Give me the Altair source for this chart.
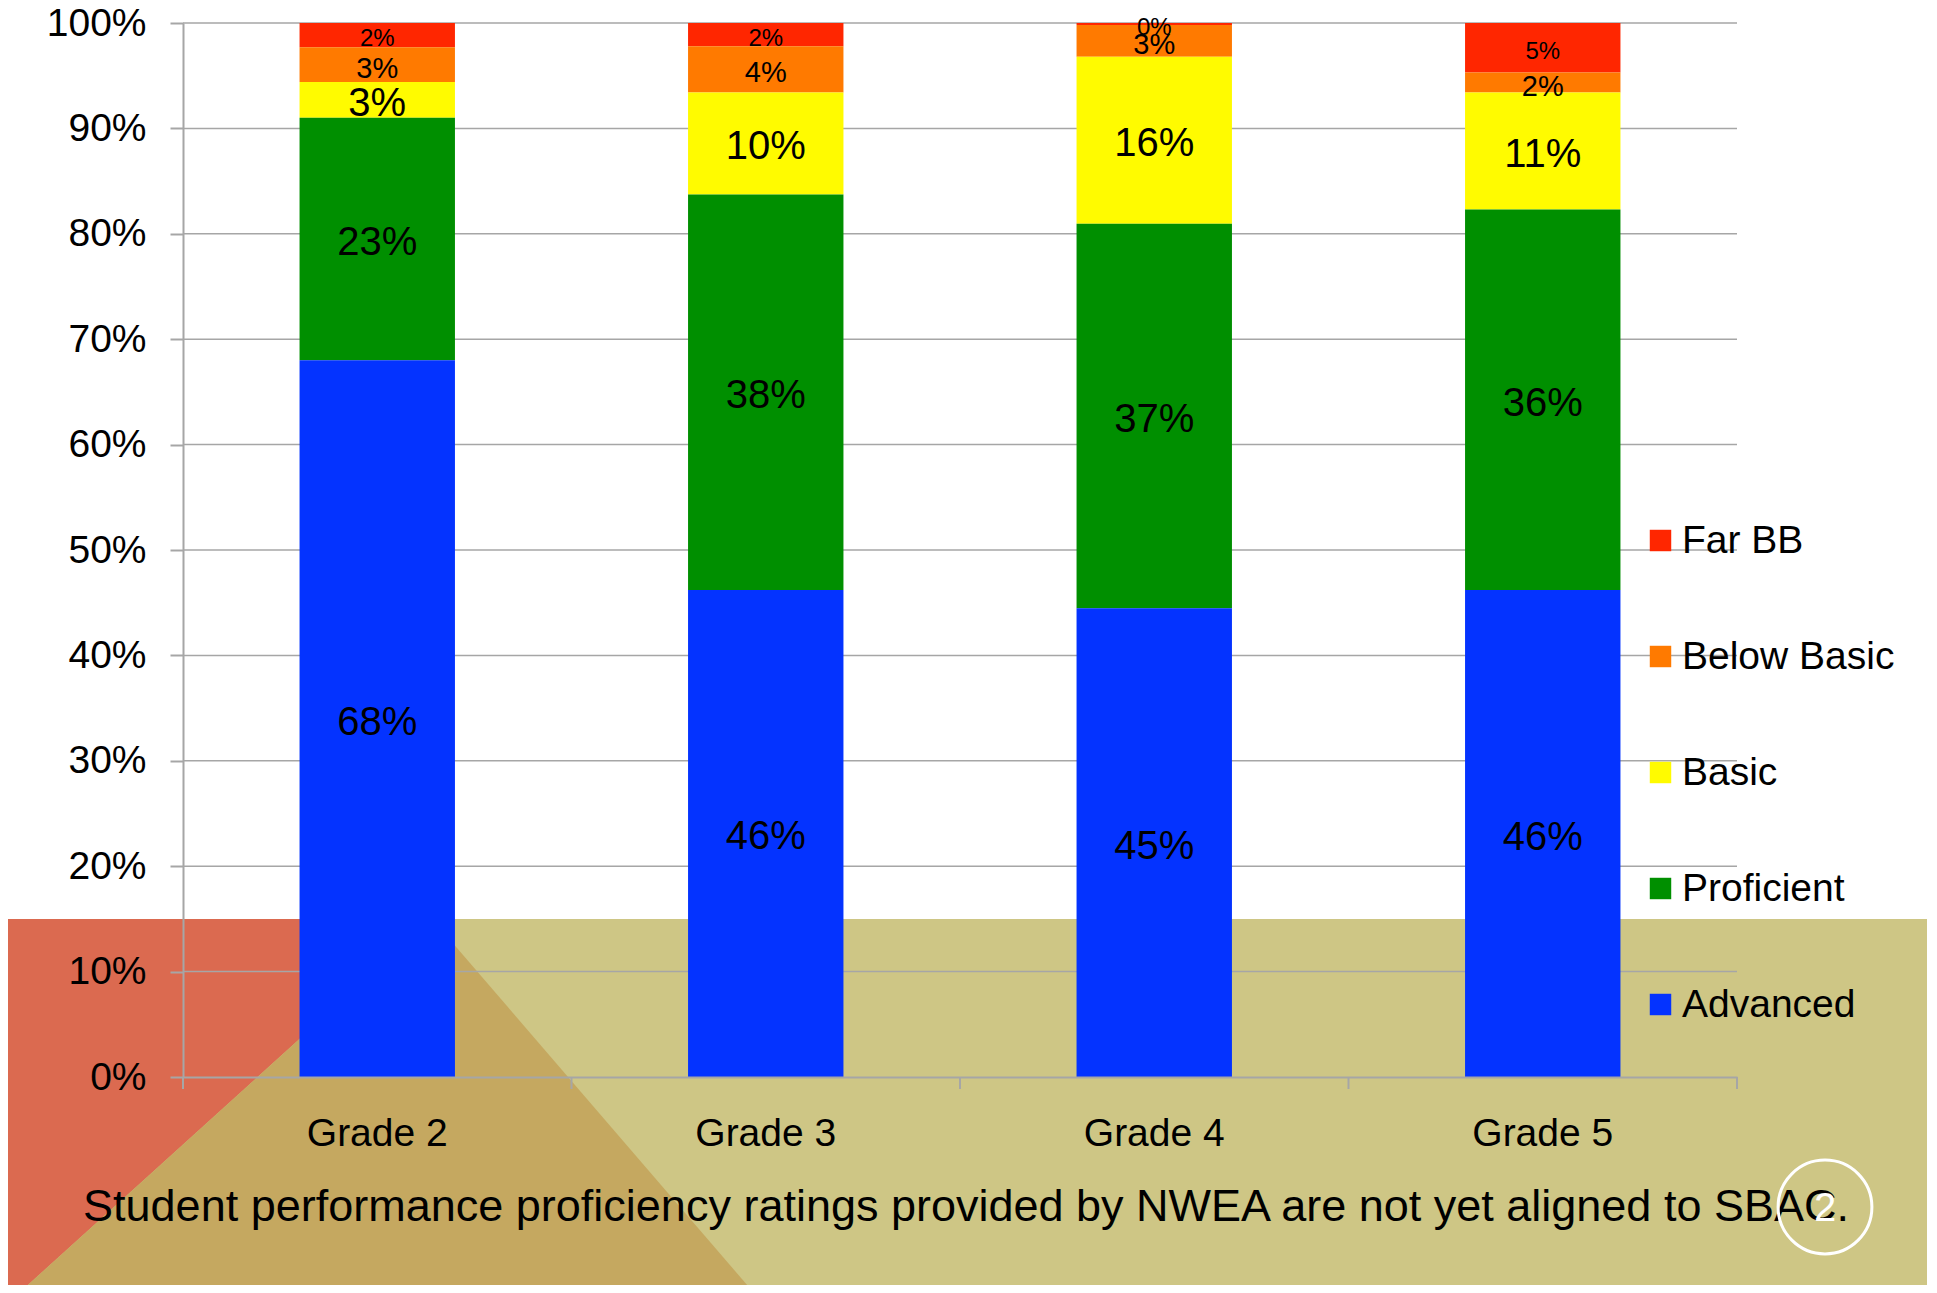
import altair as alt
import pandas as pd

# ---------------- data ----------------
grades = ["Grade 2", "Grade 3", "Grade 4", "Grade 5"]
series = ["Far BB", "Below Basic", "Basic", "Proficient", "Advanced"]
far_bb = [2.3, 2.2, 0.2, 4.7]
below_basic = [3.3, 4.4, 3.0, 1.9]
basic = [3.4, 9.7, 15.9, 11.1]
proficient = [23.0, 37.6, 36.6, 36.1]
advanced = [68.0, 46.3, 44.6, 46.2]
colors = ["#FF2600", "#FF7A00", "#FFFB00", "#008F00", "#0433FF"]
y_grid = [0.1, 0.2, 0.3, 0.4, 0.5, 0.6, 0.7, 0.8, 0.9, 1.0]
y_ticks = [0.0, 0.1, 0.2, 0.3, 0.4, 0.5, 0.6, 0.7, 0.8, 0.9, 1.0]
x_bounds = [0, 1, 2, 3, 4]
footer = "Student performance proficiency ratings provided by NWEA are not yet aligned to SBAC."
page_number = "2"

rows = []
for s, vals in zip(series, [far_bb, below_basic, basic, proficient, advanced]):
    for g, v in zip(grades, vals):
        rows.append({"grade": g, "series": s, "value": v})
df = pd.DataFrame(rows)

# ---------------- style ----------------
W, H = 1554, 1054
FONT = "Liberation Sans"
GRAY = "#A6A6A6"
TAN = "#CEC685"
RED = "#DB6A50"
BROWN = "#C5A860"

stack_order = "indexof(['Advanced','Proficient','Basic','Below Basic','Far BB'], datum.series)"

base = alt.Chart(df).transform_calculate(
    order=stack_order,
    label="format(datum.value, '.0f') + '%'",
).transform_stack(
    stack="value",
    groupby=["grade"],
    as_=["v0", "v1"],
    offset="normalize",
    sort=[alt.SortField("order", order="ascending")],
).transform_calculate(mid="(datum.v0 + datum.v1) / 2")

xscale = alt.Scale(paddingInner=0.6, paddingOuter=0.3)
yscale = alt.Scale(domain=[0, 1], nice=False, zero=True)
yaxis = alt.Axis(title=None, format=".0%", values=y_ticks, grid=False,
                 tickSize=13, tickColor=GRAY, tickWidth=2,
                 domainColor=GRAY, domainWidth=2, labelFontSize=39,
                 labelFont=FONT, labelColor="black", labelPadding=24,
                 zindex=1)

bars = base.mark_bar().encode(
    x=alt.X(
        "grade:N", sort=grades, scale=xscale,
        axis=alt.Axis(title=None, labelAngle=0, ticks=False, labelFontSize=39,
                      labelFont=FONT, labelColor="black", labelPadding=37,
                      domainColor=GRAY, domainWidth=2, zindex=1),
    ),
    y=alt.Y("v0:Q", scale=yscale, axis=yaxis),
    y2="v1:Q",
    color=alt.Color(
        "series:N",
        scale=alt.Scale(domain=series, range=colors),
        legend=alt.Legend(title=None, orient="none", legendX=1458, legendY=498,
                          direction="vertical", symbolType="square",
                          symbolSize=460, symbolStrokeWidth=0,
                          labelFontSize=39, labelFont=FONT, labelColor="black",
                          labelOffset=2, labelLimit=500, rowPadding=76, padding=0),
    ),
)

labels = base.mark_text(font=FONT, color="black", baseline="middle", align="center", dy=4).encode(
    x=alt.X("grade:N", sort=grades, scale=xscale),
    y=alt.Y("mid:Q", scale=yscale),
    text="label:N",
    size=alt.when(alt.datum.series == "Far BB").then(alt.value(24))
    .when(alt.datum.series == "Below Basic").then(alt.value(29))
    .otherwise(alt.value(40)),
)

bars_text = alt.layer(bars, labels)

grid = alt.Chart(pd.DataFrame({"g": y_grid})).mark_rule(color=GRAY, strokeWidth=1.5).encode(
    y=alt.Y("g:Q", scale=yscale, axis=yaxis),
    x=alt.value(0),
    x2=alt.value(W),
)

xticks = alt.Chart(pd.DataFrame({"b": x_bounds})).mark_rule(color=GRAY, strokeWidth=2).encode(
    x=alt.X("b:Q", scale=alt.Scale(domain=[0, 4], nice=False, zero=False), axis=None),
    y=alt.value(H),
    y2=alt.value(H + 12),
)

# ---------------- slide decoration ----------------
band = alt.Chart(pd.DataFrame({"k": [0]})).mark_rect(color=TAN).encode(
    x=alt.value(-175), x2=alt.value(1745), y=alt.value(896), y2=alt.value(1262)
)
red_df = pd.DataFrame({"px": [-175, -164, 249], "py": [896, 896, 896], "py2": [1270, 1270, 896]})
red = alt.Chart(red_df).mark_area(color=RED, orient="vertical", interpolate="linear").encode(
    x=alt.X("px:Q", scale=None), y=alt.Y("py:Q", scale=None), y2="py2:Q"
)
brown_df = pd.DataFrame({"px": [-164, 249, 571], "py": [1270, 896, 1270], "py2": [1270, 1270, 1270]})
brown = alt.Chart(brown_df).mark_area(color=BROWN, orient="vertical", interpolate="linear").encode(
    x=alt.X("px:Q", scale=None), y=alt.Y("py:Q", scale=None), y2="py2:Q"
)

foot = alt.Chart(pd.DataFrame({"t": [footer]})).mark_text(
    font=FONT, fontSize=45, color="black", align="center", baseline="middle"
).encode(text="t:N", x=alt.value(783), y=alt.value(1184))

circle = alt.Chart(pd.DataFrame({"k": [0]})).mark_point(
    shape="circle", filled=False, color="white", strokeWidth=3, size=8800, opacity=1
).encode(x=alt.value(1642), y=alt.value(1184))

num = alt.Chart(pd.DataFrame({"t": [page_number]})).mark_text(
    font=FONT, fontSize=40, color="white", align="center", baseline="middle"
).encode(text="t:N", x=alt.value(1642), y=alt.value(1186))

chart = alt.layer(
    band, red, brown, grid, bars_text, xticks, foot, circle, num
).resolve_scale(x="independent").properties(
    width=W, height=H,
    padding={"left": 175, "top": 15, "right": 190, "bottom": 208},
    autosize=alt.AutoSizeParams(type="none"),
).configure_view(stroke=None)

chart.save("out.html", embed_options={"renderer": "svg", "actions": False})
